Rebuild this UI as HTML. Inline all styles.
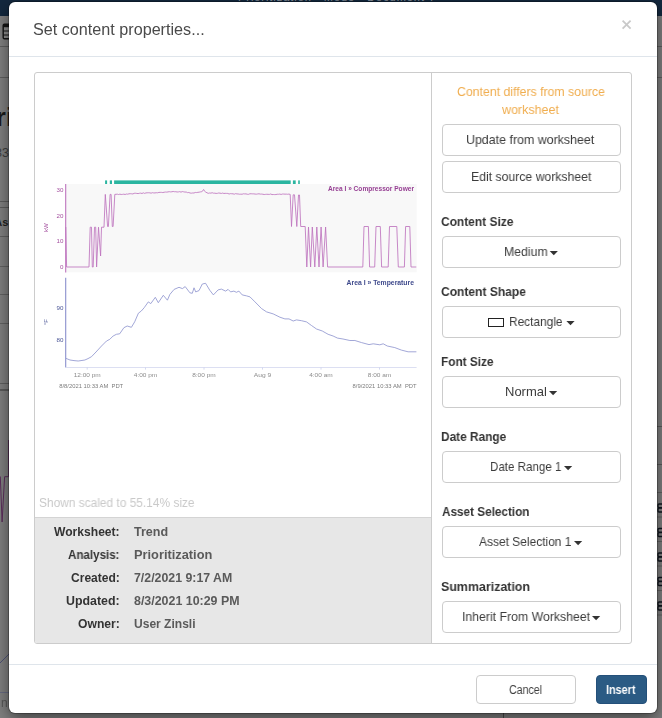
<!DOCTYPE html>
<html lang="en">
<head>
<meta charset="utf-8">
<title>Set content properties...</title>
<style>
html,body{margin:0;padding:0}
body{width:662px;height:718px;overflow:hidden;position:relative;background:#7f7f7f;font-family:"Liberation Sans",Arial,sans-serif}
.abs,.t,.btn,.caret{position:absolute}
.t{white-space:pre;line-height:1;transform-origin:0 0;display:block;will-change:transform}
#modal{position:absolute;left:9px;top:2px;width:648px;height:711px;background:#fff;border-radius:6px;box-shadow:0 0 0 1px rgba(0,0,0,.25),0 5px 15px rgba(0,0,0,.5)}
.btn{box-sizing:border-box;border:1px solid #ccc;border-radius:4px;background:#fff}
.caret{width:0;height:0;border-style:solid;border-color:#333 transparent transparent transparent;border-top-width:4px;border-bottom-width:0}
svg,.g{will-change:transform}
.hr{position:absolute;height:1px;background:#dfe5eb}
</style>
</head>
<body>
<!-- dimmed application behind the dialog -->
<div class="abs" style="left:0;top:0;width:662px;height:16px;background:#13283e"></div>
<div class="abs" style="left:238px;top:-9px;width:200px;height:12px;overflow:hidden;color:#8a929c;font-size:11px;line-height:12px;white-space:pre;letter-spacing:.95px">Prioritization   Mode   Document 7</div>
<div class="abs" style="left:0;top:46px;width:662px;height:1px;background:#5e5e5e"></div>
<div class="abs" style="left:0;top:77px;width:662px;height:1px;background:#5e5e5e"></div>
<svg class="abs" style="left:0;top:22px" width="10" height="20" viewBox="0 0 10 20"><rect x="3.2" y="2.2" width="9" height="14.6" rx="1.2" fill="#8a8a8a" stroke="#151515" stroke-width="1.4"/><rect x="3.2" y="2.2" width="9" height="3" fill="#151515"/><path d="M3.2 9H12M3.2 13H12" stroke="#151515" stroke-width="1.2" fill="none"/></svg>
<div class="abs" style="left:-21.5px;top:104.4px;font-size:26px;font-weight:700;line-height:26px;color:#1a1a1a;white-space:pre">Prioritization</div>
<div class="abs" style="right:653px;top:147.2px;font-size:12.5px;line-height:12.5px;color:#3d3d3d;white-space:pre">8:33</div>
<div class="abs" style="left:0;top:201px;width:12px;height:1px;background:#5c5c5c"></div>
<div class="abs" style="left:0;top:207px;width:12px;height:1px;background:#5c5c5c"></div>
<div class="abs" style="right:653.6px;top:216.5px;font-size:11px;font-weight:700;line-height:11px;color:#1f1f1f;white-space:pre">As</div>
<div class="abs" style="left:0;top:236px;width:12px;height:1px;background:#5f5f5f"></div>
<div class="abs" style="left:0;top:266px;width:12px;height:1px;background:#626262"></div>
<div class="abs" style="left:0;top:294px;width:12px;height:1px;background:#626262"></div>
<div class="abs" style="left:0;top:323px;width:12px;height:1px;background:#626262"></div>
<div class="abs" style="left:0;top:383px;width:12px;height:1px;background:#5f5f5f"></div>
<div class="abs" style="left:0;top:389px;width:12px;height:2px;background:#5a5a5a"></div>
<svg class="abs" style="left:0;top:400px" width="12" height="320" viewBox="0 400 12 320"><polyline points="8.6,440 8.6,476.7 4.6,476.7 2.1,522 0.3,476.7 0,476.7" fill="none" stroke="#5b2d5b" stroke-width="1"/><polyline points="0,663 9.5,653.5" fill="none" stroke="#4d5174" stroke-width="1"/><line x1="0" y1="692.5" x2="10" y2="692.5" stroke="#666a80" stroke-width="1"/></svg>
<div class="abs" style="left:1px;top:696px;font-size:12px;line-height:14px;color:#555">n</div>
<!-- right sliver -->
<div class="abs" style="left:656px;top:426px;width:6px;height:1px;background:#5a5a5a"></div>
<div class="abs" style="left:656px;top:464px;width:6px;height:1px;background:#5a5a5a"></div>
<svg class="abs" style="left:0;top:0" width="662" height="718" viewBox="0 0 662 718" fill="none" stroke="#10161f" stroke-width="1.3"><line x1="656" x2="662" y1="492.5" y2="492.5" stroke="#626262" stroke-width="1"/><line x1="656" x2="662" y1="517" y2="517" stroke="#626262" stroke-width="1"/><line x1="656" x2="662" y1="541.5" y2="541.5" stroke="#626262" stroke-width="1"/><line x1="656" x2="662" y1="566" y2="566" stroke="#626262" stroke-width="1"/><line x1="656" x2="662" y1="590.5" y2="590.5" stroke="#626262" stroke-width="1"/><line x1="656" x2="662" y1="615" y2="615" stroke="#626262" stroke-width="1"/><rect x="658" y="504" width="6" height="3.6" rx="1"/><rect x="658" y="508.2" width="6" height="3.8" rx="1"/><rect x="658" y="528.5" width="6" height="3.6" rx="1"/><rect x="658" y="532.7" width="6" height="3.8" rx="1"/><rect x="658" y="553" width="6" height="3.6" rx="1"/><rect x="658" y="557.2" width="6" height="3.8" rx="1"/><rect x="658" y="577.5" width="6" height="3.6" rx="1"/><rect x="658" y="581.7" width="6" height="3.8" rx="1"/><rect x="658" y="602" width="6" height="3.6" rx="1"/><rect x="658" y="606.2" width="6" height="3.8" rx="1"/></svg>
<div class="abs" style="left:503px;top:700px;width:1px;height:18px;background:#4a4a4a"></div>

<div id="modal"></div>
<div class="hr" style="left:9px;top:56px;width:648px"></div>
<div class="hr" style="left:9px;top:664px;width:648px"></div>
<!-- close x -->
<svg class="abs" style="left:620px;top:18px" width="14" height="14" viewBox="0 0 14 14"><path d="M2.6 2.6 L10.6 10.6 M10.6 2.6 L2.6 10.6" stroke="#c9c9c9" stroke-width="1.8" fill="none"/></svg>
<!-- panel -->
<div class="abs" style="left:34px;top:72px;width:598px;height:572px;box-sizing:border-box;border:1px solid #ccc;border-radius:3px;background:#fff"></div>
<div class="abs" style="left:431px;top:73px;width:1px;height:570px;background:#ccc"></div>
<div class="abs" style="left:35px;top:517px;width:396px;height:126px;background:#e7e7e7;border-top:1px solid #d4d4d4;box-sizing:border-box;border-bottom-left-radius:2px"></div>
<svg class="abs" style="left:35px;top:170px" width="396" height="230" viewBox="35 170 396 230" font-family="Liberation Sans, Arial, sans-serif">
<rect x="66" y="184" width="350.7" height="88.3" fill="#f8f8f8"/>
<rect x="105.1" y="180.4" width="2.0" height="3.6" fill="#2bb5a0"/>
<rect x="109.8" y="180.4" width="2.2" height="3.6" fill="#2bb5a0"/>
<rect x="114.1" y="180.4" width="176.6" height="3.6" fill="#2bb5a0"/>
<rect x="292.9" y="180.4" width="2.8" height="3.6" fill="#2bb5a0"/>
<rect x="298.2" y="180.4" width="1.6" height="3.6" fill="#2bb5a0"/>
<line x1="65.7" y1="184" x2="65.7" y2="272.6" stroke="#be74be" stroke-width="1.1"/>
<polyline points="65.8,227 66.6,267 89,267 90.2,227.2 91.5,227.2 92.3,267 93.2,267 94.5,227.2 95.7,227.2 96.6,267 98.5,227.2 100.6,256 101.5,227.2 104,227.2 105.3,194.4 107.6,226.5 108.4,226.5 110.1,194.4 111.1,194.4 112.3,226.5 113.1,226.5 114.8,194.4 116,194.29 117.3,194.18 118.6,194.54 119.9,194.15 121.2,194.49 122.5,194.38 123.8,194.18 125.1,194.5 126.4,194.04 127.7,194.18 129,193.8 130.3,193.68 131.6,193.79 132.9,193.94 134.2,193.32 135.5,193.26 136.8,193.41 138.1,193.59 139.4,193.29 140.7,193.14 142,193.51 143.3,192.83 144.6,193.36 145.9,192.93 147.2,192.79 148.5,192.74 149.8,192.84 151.1,193.16 152.4,192.68 153.7,192.93 155,192.93 156.3,192.71 157.6,192.8 158.9,192.42 160.2,192.37 161.5,192.35 162.8,192.56 164.1,192.26 165.4,192.06 166.7,192.12 168,191.91 169.3,191.68 170.6,191.9 171.9,191.75 173.2,191.46 174.5,191.72 175.8,191.71 177.1,191.99 178.4,191.91 179.7,191.63 181,192.15 182.3,191.57 183.6,191.81 184.9,192.08 186.2,192.02 187.5,192.64 188.8,192.52 190.1,193.02 191.4,193.16 192.7,192.96 194,193.01 195.3,192.46 196.6,192.56 197.9,192.33 199.2,192.16 200.5,191.87 201.8,191.64 203.1,190.41 203.6,189.5 204.4,191.03 205.7,192.02 207,192.81 208.3,193.31 209.6,193 210.9,193.14 212.2,192.73 213.5,193.2 214.8,193.17 216.1,193.43 217.4,193.32 218.7,193 220,193.15 221.3,193.44 222.6,193.07 223.9,193.47 225.2,193.35 226.5,193.4 227.8,193.44 229.1,194.03 230.4,193.64 231.7,193.73 233,193.84 234.3,194.18 235.6,193.63 236.9,193.9 238.2,193.98 239.5,194.22 240.8,194.18 242.1,194.22 243.4,193.81 244.7,193.91 246,193.88 247.3,194.26 248.6,194.31 249.9,193.76 251.2,193.79 252.5,193.85 253.8,193.87 255.1,194.07 256.4,194.16 257.7,193.95 259,193.79 260.3,194.1 261.6,194.08 262.9,194.24 264.2,194.53 265.5,194.37 266.8,194.26 268.1,194.35 269.4,194.41 270.7,193.99 272,194.59 273.3,194.51 274.6,194.58 275.9,194.54 277.2,194.26 278.5,194.27 279.8,194.07 281.1,194.45 282.4,194.05 283.7,194.06 285,194.17 286.3,194.14 287.6,194.28 288.9,194.08 290.2,194.4 291.5,226.5 293.2,194.8 294.5,194.8 296.8,226.5 298.5,195 299.5,195 300.7,226.5 305.2,226.5 306.8,267 308.5,227 310.6,267 312.3,227 314.8,267 316.8,227 319,267 321.1,227 323.1,267 325.6,227 327.6,267 362.8,267 364,226.5 368.4,226.5 369.6,267 374.7,267 376,226.5 380.3,226.5 381.6,267 388.2,267 389.5,226.5 396.8,226.5 398.3,267 404.4,267 405.6,226.5 409.8,226.5 411,267 416.3,267" fill="none" stroke="#be74be" stroke-width="0.85" stroke-linejoin="round"/>
<text x="63.4" y="191.5" font-size="6.2" fill="#a4509f" text-anchor="end">30</text>
<text x="63.4" y="217.7" font-size="6.2" fill="#a4509f" text-anchor="end">20</text>
<text x="63.4" y="243.4" font-size="6.2" fill="#a4509f" text-anchor="end">10</text>
<text x="63.4" y="269.2" font-size="6.2" fill="#a4509f" text-anchor="end">0</text>
<text transform="translate(48.3,227.7) rotate(-90)" font-size="6" fill="#a4509f" text-anchor="middle">kW</text>
<text x="328" y="190.8" font-size="7" font-weight="bold" fill="#963f93" textLength="86" lengthAdjust="spacingAndGlyphs">Area I » Compressor Power</text>
<line x1="65.7" y1="277.8" x2="65.7" y2="367.5" stroke="#8a90cd" stroke-width="1.1"/>
<polyline points="66,358.4 70,360 74,360.6 78.2,361 81,360.6 84.9,360 88,358.6 91.5,356.7 96,352 101.5,346 106.5,341 109.8,339.3 113.1,336 116.4,334.3 119.7,333.8 123.9,327.7 127.2,326 131.4,327.3 134.7,321.8 138.4,313.2 141.3,311 144.2,307.7 148.3,301.9 150.8,303.6 155.3,297.3 158.3,302.7 163.3,295.3 167.4,300.2 169.9,294.4 174.1,289.4 179,287.3 182.4,288.6 185.2,286.6 189.9,292.8 192.3,293.3 194,287.8 195.7,291.9 199,290.6 202.3,284 205.6,283.3 209.8,290.3 213.4,294.9 218.1,289.9 221.4,289.1 225.6,291.1 228.1,289.4 230.6,291.9 233.9,291.1 236.4,292.3 238.9,291.1 242.2,294.9 246.3,295.8 250,296.9 255,301.9 261.6,308.6 266.6,311.9 273.2,313.9 279.9,317.2 284.9,318.9 289,318.9 293.2,321 296.5,319.9 301.5,320.7 306.5,321.9 311.5,325.5 316.5,329 322.3,331 328.1,334.3 333.1,336 337.5,338.1 343,339 349.9,340.5 354.9,340.5 361.6,342.6 369,344.6 373.2,343.8 379.8,344.8 383.2,343.8 387.3,346 394.8,347.6 401.4,350.1 408.1,351.8 416.4,351.8" fill="none" stroke="#8a90cd" stroke-width="0.8" stroke-linejoin="round"/>
<text x="63.4" y="310.4" font-size="6.2" fill="#4a5596" text-anchor="end">90</text>
<text x="63.4" y="341.5" font-size="6.2" fill="#4a5596" text-anchor="end">80</text>
<text transform="translate(48.3,322) rotate(-90)" font-size="6" fill="#4a5596" text-anchor="middle">°F</text>
<text x="346.6" y="285.0" font-size="7" font-weight="bold" fill="#3f4a8c" textLength="67.4" lengthAdjust="spacingAndGlyphs">Area I » Temperature</text>
<line x1="65.7" y1="367.5" x2="416.6" y2="367.5" stroke="#dcdff2" stroke-width="1"/>
<line x1="87.2" y1="367.5" x2="87.2" y2="369.6" stroke="#c9cfec" stroke-width="0.8"/>
<text x="73.7" y="377.3" font-size="6" fill="#8c8c8c" textLength="27" lengthAdjust="spacingAndGlyphs">12:00 pm</text>
<line x1="145.5" y1="367.5" x2="145.5" y2="369.6" stroke="#c9cfec" stroke-width="0.8"/>
<text x="133.8" y="377.3" font-size="6" fill="#8c8c8c" textLength="23.5" lengthAdjust="spacingAndGlyphs">4:00 pm</text>
<line x1="204" y1="367.5" x2="204" y2="369.6" stroke="#c9cfec" stroke-width="0.8"/>
<text x="192.2" y="377.3" font-size="6" fill="#8c8c8c" textLength="23.5" lengthAdjust="spacingAndGlyphs">8:00 pm</text>
<line x1="262.5" y1="367.5" x2="262.5" y2="369.6" stroke="#c9cfec" stroke-width="0.8"/>
<text x="253.8" y="377.3" font-size="6" fill="#8c8c8c" textLength="17.5" lengthAdjust="spacingAndGlyphs">Aug 9</text>
<line x1="321" y1="367.5" x2="321" y2="369.6" stroke="#c9cfec" stroke-width="0.8"/>
<text x="309.2" y="377.3" font-size="6" fill="#8c8c8c" textLength="23.5" lengthAdjust="spacingAndGlyphs">4:00 am</text>
<line x1="379.5" y1="367.5" x2="379.5" y2="369.6" stroke="#c9cfec" stroke-width="0.8"/>
<text x="367.8" y="377.3" font-size="6" fill="#8c8c8c" textLength="23.5" lengthAdjust="spacingAndGlyphs">8:00 am</text>
<text x="59.2" y="388.4" font-size="4.9" fill="#7c7c7c" textLength="64" lengthAdjust="spacingAndGlyphs" xml:space="preserve">8/8/2021 10:33 AM  PDT</text>
<text x="352.6" y="388.4" font-size="4.9" fill="#7c7c7c" textLength="64" lengthAdjust="spacingAndGlyphs" xml:space="preserve">8/9/2021 10:33 AM  PDT</text>
</svg>
<div class="btn" style="left:442px;top:124px;width:179px;height:32px;"></div><div class="btn" style="left:442px;top:161px;width:179px;height:32px;"></div><div class="btn" style="left:442px;top:236px;width:179px;height:32px;"></div><div class="btn" style="left:442px;top:306px;width:179px;height:32px;"></div><div class="btn" style="left:442px;top:376px;width:179px;height:32px;"></div><div class="btn" style="left:442px;top:451px;width:179px;height:32px;"></div><div class="btn" style="left:442px;top:526px;width:179px;height:32px;"></div><div class="btn" style="left:442px;top:601px;width:179px;height:32px;"></div>
<svg class="abs" style="left:0;top:0" width="662" height="718" viewBox="0 0 662 718" fill="#333"><polygon points="549.7,251.1 557.9,251.1 553.8,255.3"/><polygon points="566.4,321.1 574.6,321.1 570.5,325.3"/><polygon points="549.0,391.1 557.2,391.1 553.1,395.3"/><polygon points="564.0,466.1 572.2,466.1 568.1,470.3"/><polygon points="574.0,541.1 582.2,541.1 578.1,545.3"/><polygon points="592.0,616.1 600.2,616.1 596.1,620.3"/></svg>
<div class="abs" style="left:488px;top:318px;width:16px;height:9px;box-sizing:border-box;border:1px solid #222;background:#fff"></div>
<div class="btn" style="left:476px;top:675px;width:100px;height:29px"></div>
<div class="btn" style="left:596px;top:675px;width:51px;height:29px;background:#2b5b84;border-color:#24507a"></div>
<span class="t" style="left:33.33px;top:21.69px;font-size:15.6px;font-weight:400;color:#4a4a4a;transform:scaleX(1.0367)">Set content properties...</span>
<span class="t" style="left:456.56px;top:85.20px;font-size:13px;font-weight:400;color:#f0ad4e;transform:scaleX(0.9451)">Content differs from source</span>
<span class="t" style="left:502.15px;top:102.80px;font-size:13px;font-weight:400;color:#f0ad4e;transform:scaleX(0.9586)">worksheet</span>
<span class="t" style="left:466.26px;top:133.20px;font-size:13px;font-weight:400;color:#3c3c3c;transform:scaleX(0.9545)">Update from worksheet</span>
<span class="t" style="left:470.57px;top:170.20px;font-size:13px;font-weight:400;color:#3c3c3c;transform:scaleX(0.9411)">Edit source worksheet</span>
<span class="t" style="left:441.48px;top:215.00px;font-size:13px;font-weight:700;color:#333;transform:scaleX(0.9200)">Content Size</span>
<span class="t" style="left:504.06px;top:245.30px;font-size:13px;font-weight:400;color:#3c3c3c;transform:scaleX(0.9443)">Medium</span>
<span class="t" style="left:441.48px;top:285.00px;font-size:13px;font-weight:700;color:#333;transform:scaleX(0.9260)">Content Shape</span>
<span class="t" style="left:509.09px;top:315.30px;font-size:13px;font-weight:400;color:#3c3c3c;transform:scaleX(0.9142)">Rectangle</span>
<span class="t" style="left:441.49px;top:355.00px;font-size:13px;font-weight:700;color:#333;transform:scaleX(0.9089)">Font Size</span>
<span class="t" style="left:505.23px;top:385.30px;font-size:13px;font-weight:400;color:#3c3c3c;transform:scaleX(0.9914)">Normal</span>
<span class="t" style="left:441.49px;top:430.00px;font-size:13px;font-weight:700;color:#333;transform:scaleX(0.9118)">Date Range</span>
<span class="t" style="left:490.31px;top:460.30px;font-size:13px;font-weight:400;color:#3c3c3c;transform:scaleX(0.8897)">Date Range 1</span>
<span class="t" style="left:441.50px;top:505.00px;font-size:13px;font-weight:700;color:#333;transform:scaleX(0.9038)">Asset Selection</span>
<span class="t" style="left:479.28px;top:535.30px;font-size:13px;font-weight:400;color:#3c3c3c;transform:scaleX(0.9202)">Asset Selection 1</span>
<span class="t" style="left:441.46px;top:580.00px;font-size:13px;font-weight:700;color:#333;transform:scaleX(0.9550)">Summarization</span>
<span class="t" style="left:461.56px;top:610.30px;font-size:13px;font-weight:400;color:#3c3c3c;transform:scaleX(0.9445)">Inherit From Worksheet</span>
<span class="t" style="left:38.89px;top:496.54px;font-size:12px;font-weight:400;color:#c9c9c9;transform:scaleX(0.9921)">Shown scaled to 55.14% size</span>
<span class="t" style="left:53.77px;top:525.54px;font-size:12px;font-weight:700;color:#333;transform:scaleX(1.0078)">Worksheet:</span>
<span class="t" style="left:134.15px;top:525.54px;font-size:12px;font-weight:700;color:#5a5a5a;transform:scaleX(1.0438)">Trend</span>
<span class="t" style="left:67.91px;top:548.54px;font-size:12px;font-weight:700;color:#333;transform:scaleX(0.9650)">Analysis:</span>
<span class="t" style="left:134.13px;top:548.54px;font-size:12px;font-weight:700;color:#5a5a5a;transform:scaleX(1.0681)">Prioritization</span>
<span class="t" style="left:70.58px;top:571.54px;font-size:12px;font-weight:700;color:#333;transform:scaleX(1.0032)">Created:</span>
<span class="t" style="left:134.16px;top:571.54px;font-size:12px;font-weight:700;color:#5a5a5a;transform:scaleX(1.0278)">7/2/2021 9:17 AM</span>
<span class="t" style="left:65.86px;top:594.54px;font-size:12px;font-weight:700;color:#333;transform:scaleX(1.0305)">Updated:</span>
<span class="t" style="left:134.16px;top:594.54px;font-size:12px;font-weight:700;color:#5a5a5a;transform:scaleX(1.0344)">8/3/2021 10:29 PM</span>
<span class="t" style="left:77.57px;top:617.54px;font-size:12px;font-weight:700;color:#333;transform:scaleX(1.0124)">Owner:</span>
<span class="t" style="left:134.18px;top:617.54px;font-size:12px;font-weight:700;color:#5a5a5a;transform:scaleX(1.0030)">User Zinsli</span>
<span class="t" style="left:508.66px;top:683.72px;font-size:12.5px;font-weight:400;color:#3c3c3c;transform:scaleX(0.8471)">Cancel</span>
<span class="t" style="left:606.25px;top:683.72px;font-size:12.5px;font-weight:700;color:#fff;transform:scaleX(0.8634)">Insert</span>
</body>
</html>
